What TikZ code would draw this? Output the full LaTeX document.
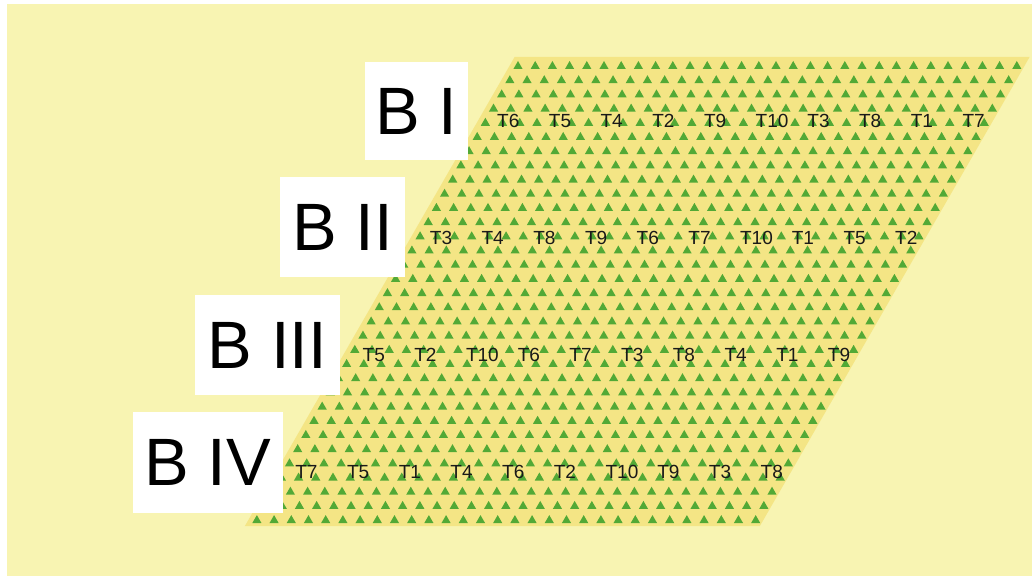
\documentclass[tikz,border=0pt]{standalone}
\usepackage{fontspec}
\setmainfont{Liberation Sans}
\definecolor{bg}{HTML}{F8F4B2}
\definecolor{pfill}{HTML}{F4E585}
\definecolor{trig}{HTML}{52A936}
\begin{document}
\begin{tikzpicture}[x=1pt,y=-1pt,
  tlab/.style={font=\fontsize{19}{19}\selectfont, text=black!90, inner sep=0pt, anchor=west},
  blab/.style={fill=white, font=\fontsize{67}{67}\selectfont, inner sep=0pt, text=black},
  trifill/.style={fill=trig}]
\useasboundingbox (0,0) rectangle (1032,575);
\fill[white] (0,0) rectangle (1032,575);
\fill[bg] (7,4) rectangle (1033,576);
\fill[pfill] (514.6,57) -- (1029.6,57) -- (759.9,526) -- (244.9,526) -- cycle;
\foreach \r in {0,...,32}{
  \foreach \k in {0,...,29}{
    \pgfmathsetmacro\tx{518-8.16*\r+17.2*\k}
    \pgfmathsetmacro\ty{65+14.19*\r}
    \fill[trifill] (\tx-4.6,\ty+4) -- (\tx+4.6,\ty+4) -- (\tx,\ty-4) -- cycle;
  }
}
% treatment labels
\foreach \lst [count=\j from 0] in {{T6,T5,T4,T2,T9,T10,T3,T8,T1,T7},
                                    {T3,T4,T8,T9,T6,T7,T10,T1,T5,T2},
                                    {T5,T2,T10,T6,T7,T3,T8,T4,T1,T9},
                                    {T7,T5,T1,T4,T6,T2,T10,T9,T3,T8}}{
  \pgfmathsetmacro\ly{121+117*\j}
  \foreach \t [count=\i from 0] in \lst {
    \pgfmathsetmacro\lx{497-0.575*(\ly-121)+51.7*\i}
    \node[tlab] (r\j c\i) at (\lx,\ly) {\t};
  }
}
% block labels
\node[blab, minimum width=103pt, minimum height=98pt] (bI) at (416.5,111) {B I};
\node[blab, minimum width=125pt, minimum height=100pt] (bII) at (342.5,227) {B II};
\node[blab, minimum width=145pt, minimum height=100pt] (bIII) at (267.5,345) {B III};
\node[blab, minimum width=150pt, minimum height=101pt] (bIV) at (208,462.5) {B IV};
\end{tikzpicture}
\end{document}
